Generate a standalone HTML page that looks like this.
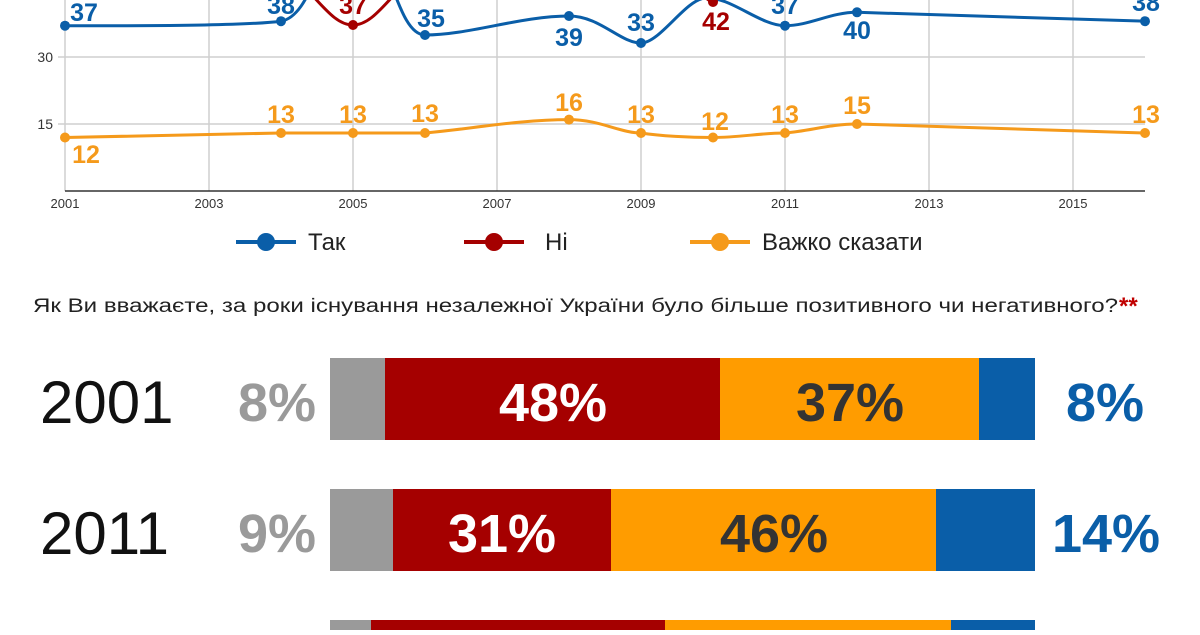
<!DOCTYPE html>
<html><head><meta charset="utf-8"><style>
html,body{margin:0;padding:0;background:#fff;}
body{width:1200px;height:630px;overflow:hidden;font-family:"Liberation Sans","DejaVu Sans",sans-serif;}
</style></head><body>
<svg width="1200" height="630" viewBox="0 0 1200 630" xmlns="http://www.w3.org/2000/svg" font-family="Liberation Sans, DejaVu Sans, sans-serif">
<g stroke="#cfcfcf" stroke-width="1.5">
<line x1="65" y1="0" x2="65" y2="191"/><line x1="209" y1="0" x2="209" y2="191"/><line x1="353" y1="0" x2="353" y2="191"/><line x1="497" y1="0" x2="497" y2="191"/><line x1="641" y1="0" x2="641" y2="191"/><line x1="785" y1="0" x2="785" y2="191"/><line x1="929" y1="0" x2="929" y2="191"/><line x1="1073" y1="0" x2="1073" y2="191"/>
<line x1="58" y1="57" x2="1145" y2="57"/><line x1="58" y1="124" x2="1145" y2="124"/>
</g>
<line x1="65" y1="191" x2="1145" y2="191" stroke="#333" stroke-width="1.5"/>
<g font-size="13" fill="#333" text-anchor="middle">
<text x="65" y="208">2001</text><text x="209" y="208">2003</text><text x="353" y="208">2005</text><text x="497" y="208">2007</text><text x="641" y="208">2009</text><text x="785" y="208">2011</text><text x="929" y="208">2013</text><text x="1073" y="208">2015</text>
</g>
<g font-size="14" fill="#333" text-anchor="end"><text x="53" y="62">30</text><text x="53" y="129">15</text></g>

<g fill="none" stroke-width="3">
<path stroke="#a50000" d="M312,-5 C330,15 340,25 353,25 C366,25 376,15 394,-5"/>
<path stroke="#a50000" d="M702,-6 C706,-2 710,2 713,2 C716,2 720,-2 724,-6"/>
<path stroke="#0a5ea8" d="M65,25.7 C180,26 250,25 281,21.2 C300,18 310,-10 320,-30 M385,-30 C395,-10 405,35 425,35 C470,35 520,16 569,16 C600,16 620,43 641,43 C660,43 685,0 705,-2 C730,-4 760,25.7 785,25.7 C810,25.7 830,12.3 857,12.3 L1145,21.2"/>
<path stroke="#f59a1b" d="M65,137.5 L281,133 L353,133 L425,133 C470,129 520,119.6 569,119.6 C600,119.6 620,133 641,133 C660,136 690,137.5 713,137.5 C740,137.5 760,133 785,133 C810,131 830,124 857,124 L1145,133"/>
</g>
<g fill="#0a5ea8"><circle cx="65" cy="25.7" r="5"/><circle cx="281" cy="21.2" r="5"/><circle cx="425" cy="35" r="5"/><circle cx="569" cy="16" r="5"/><circle cx="641" cy="43" r="5"/><circle cx="785" cy="25.7" r="5"/><circle cx="857" cy="12.3" r="5"/><circle cx="1145" cy="21.2" r="5"/></g>
<g fill="#a50000"><circle cx="353" cy="25" r="5"/><circle cx="713" cy="2" r="5"/></g>
<g fill="#f59a1b"><circle cx="65" cy="137.5" r="5"/><circle cx="281" cy="133" r="5"/><circle cx="353" cy="133" r="5"/><circle cx="425" cy="133" r="5"/><circle cx="569" cy="119.6" r="5"/><circle cx="641" cy="133" r="5"/><circle cx="713" cy="137.5" r="5"/><circle cx="785" cy="133" r="5"/><circle cx="857" cy="124" r="5"/><circle cx="1145" cy="133" r="5"/></g>
<g font-size="25" font-weight="bold" fill="#0a5ea8" text-anchor="middle">
<text x="84" y="21">37</text><text x="281" y="14">38</text><text x="431" y="27">35</text><text x="569" y="46">39</text><text x="641" y="31">33</text><text x="785" y="14">37</text><text x="857" y="39">40</text><text x="1146" y="11">38</text>
</g>
<g font-size="25" font-weight="bold" fill="#a50000" text-anchor="middle"><text x="353" y="14">37</text><text x="716" y="30">42</text></g>
<g font-size="25" font-weight="bold" fill="#f59a1b" text-anchor="middle">
<text x="86" y="163">12</text><text x="281" y="123">13</text><text x="353" y="123">13</text><text x="425" y="122">13</text><text x="569" y="111">16</text><text x="641" y="123">13</text><text x="715" y="130">12</text><text x="785" y="123">13</text><text x="857" y="114">15</text><text x="1146" y="123">13</text>
</g>
<g stroke-width="4"><line x1="236" y1="242" x2="296" y2="242" stroke="#0a5ea8"/><line x1="464" y1="242" x2="524" y2="242" stroke="#a50000"/><line x1="690" y1="242" x2="750" y2="242" stroke="#f59a1b"/></g>
<circle cx="266" cy="242" r="9" fill="#0a5ea8"/><circle cx="494" cy="242" r="9" fill="#a50000"/><circle cx="720" cy="242" r="9" fill="#f59a1b"/>
<g font-size="24" fill="#222"><text x="308" y="250">Так</text><text x="545" y="250">Ні</text><text x="762" y="250">Важко сказати</text></g>
<text x="33" y="312" font-size="19" fill="#222" textLength="1085" lengthAdjust="spacingAndGlyphs">Як Ви вважаєте, за роки  існування незалежної України  було більше позитивного чи негативного?</text>
<text x="1119" y="314" font-size="24" font-weight="bold" fill="#c00000">**</text>

<rect x="330" y="358" width="55" height="82" fill="#9a9a9a"/><rect x="385" y="358" width="335" height="82" fill="#a50000"/><rect x="720" y="358" width="259" height="82" fill="#ff9c00"/><rect x="979" y="358" width="56" height="82" fill="#0a5ea8"/>
<rect x="330" y="489" width="63" height="82" fill="#9a9a9a"/><rect x="393" y="489" width="218" height="82" fill="#a50000"/><rect x="611" y="489" width="325" height="82" fill="#ff9c00"/><rect x="936" y="489" width="99" height="82" fill="#0a5ea8"/>
<rect x="330" y="620" width="41" height="20" fill="#9a9a9a"/><rect x="371" y="620" width="294" height="20" fill="#a50000"/><rect x="665" y="620" width="286" height="20" fill="#ff9c00"/><rect x="951" y="620" width="84" height="20" fill="#0a5ea8"/>
<g font-size="60" fill="#111"><text x="40" y="423">2001</text><text x="40" y="554">2011</text></g>
<g font-size="54" font-weight="bold" text-anchor="middle">
<text x="277" y="421" fill="#9a9a9a">8%</text><text x="553" y="421" fill="#fff">48%</text><text x="850" y="421" fill="#333">37%</text><text x="1105" y="421" fill="#0a5ea8">8%</text>
<text x="277" y="552" fill="#9a9a9a">9%</text><text x="502" y="552" fill="#fff">31%</text><text x="774" y="552" fill="#333">46%</text><text x="1106" y="552" fill="#0a5ea8">14%</text>
</g>
</svg>
</body></html>
